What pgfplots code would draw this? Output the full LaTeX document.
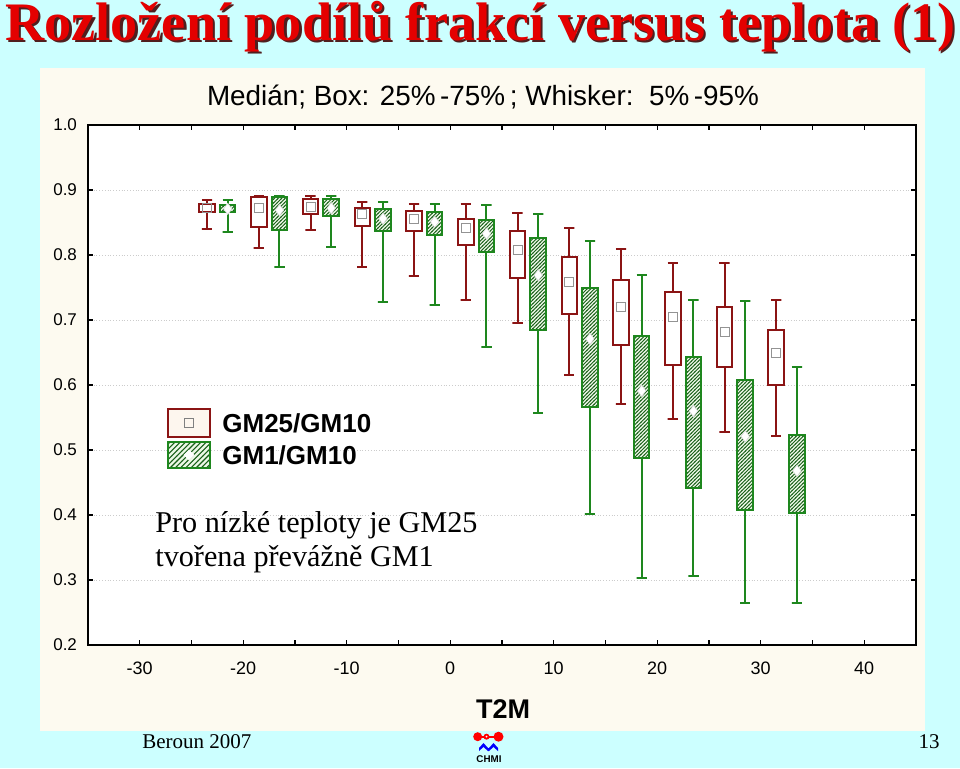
\documentclass[border=0pt]{standalone}
\usepackage{fontspec}
\setmainfont{Liberation Serif}
\setsansfont{Liberation Sans}
\usepackage{pgfplots}
\pgfplotsset{compat=1.18}
\usetikzlibrary{patterns, shapes.geometric}

\pgfdeclarepatternformonly{hatchA}{\pgfqpoint{-1pt}{-1pt}}{\pgfqpoint{2.8pt}{2.8pt}}{\pgfqpoint{1.8pt}{1.8pt}}{%
  \pgfsetlinewidth{0.45pt}%
  \pgfpathmoveto{\pgfqpoint{0pt}{0pt}}%
  \pgfpathlineto{\pgfqpoint{1.9pt}{1.9pt}}%
  \pgfusepath{stroke}}
\pgfdeclarepatternformonly{hatchB}{\pgfqpoint{-1pt}{-1pt}}{\pgfqpoint{3.6pt}{3.6pt}}{\pgfqpoint{2.6pt}{2.6pt}}{%
  \pgfsetlinewidth{0.55pt}%
  \pgfpathmoveto{\pgfqpoint{0pt}{0pt}}%
  \pgfpathlineto{\pgfqpoint{2.7pt}{2.7pt}}%
  \pgfusepath{stroke}}

\definecolor{bgcyan}{RGB}{204,255,255}
\definecolor{panel}{RGB}{253,250,240}
\definecolor{boxred}{RGB}{139,20,20}
\definecolor{boxgreen}{RGB}{30,135,30}
\definecolor{hatchcol}{RGB}{25,95,25}
\definecolor{titlered}{RGB}{228,0,0}
\definecolor{tshadow}{RGB}{80,30,30}
\definecolor{hatchbg}{RGB}{236,248,230}
\definecolor{legcream}{RGB}{253,246,238}

\newcommand{\titletext}{\resizebox{475pt}{!}{\fontsize{27}{30}\selectfont\bfseries Rozložení podílů frakcí versus teplota (1)}}

\pgfplotsset{
  rbox/.style={draw=boxred, fill=white, line width=1pt, line join=miter, line cap=rect, mark=none},
  gbox/.style={draw=boxgreen, preaction={fill=hatchbg}, pattern=hatchA, pattern color=hatchcol, line width=1pt, line join=miter, line cap=rect, mark=none},
}

\begin{document}
\begin{tikzpicture}
\begin{scope}[x=0.5pt,y=0.5pt]
\useasboundingbox (0,0) rectangle (960,768);
\fill[bgcyan] (0,0) rectangle (960,768);
\fill[panel] (40,37) rectangle (925,700);
\node[anchor=base west, inner sep=0pt, text=tshadow] at (7.5,725.5) {\titletext};
\node[anchor=base west, inner sep=0pt, text=titlered] at (5,728) {\titletext};
\end{scope}

\begin{axis}[
  at={(44pt,61.5pt)}, anchor=south west, scale only axis,
  width=414pt, height=260pt,
  xmin=-35, xmax=45, ymin=0.2, ymax=1.0,
  xtick={-30,-20,-10,0,10,20,30,40},
  xticklabels={-30,-20,-10,0,10,20,30,40},
  minor xtick={-35,-25,-15,-5,5,15,25,35,45},
  ytick={0.2,0.3,0.4,0.5,0.6,0.7,0.8,0.9,1.0},
  yticklabels={0.2,0.3,0.4,0.5,0.6,0.7,0.8,0.9,1.0},
  tick align=inside, xtick pos=both, ytick pos=both,
  major tick length=2.5pt, minor tick length=2.5pt,
  every tick/.style={black, line width=0.6pt},
  every minor tick/.style={black, line width=0.6pt},
  ymajorgrids, grid style={densely dotted, gray!40, line width=0.5pt},
  axis line style={black, line width=0.8pt},
  axis background/.style={fill=white},
  tick label style={font=\sffamily\fontsize{8.5}{10}\selectfont},
  xticklabel style={yshift=-5pt, font=\sffamily\fontsize{9}{10}\selectfont},
  yticklabel style={xshift=-2pt},
  unbounded coords=jump,
  clip=false,
]
% whiskers GM25/GM10 (red): cap at 95%, line down to 5%, cap at 5%
\addplot[boxred, line width=1pt, mark=none] coordinates {
 (-24,0.884) (-23,0.884) (-23.5,0.884) (-23.5,0.840) (-24,0.840) (-23,0.840) (nan,nan)
 (-19,0.891) (-18,0.891) (-18.5,0.891) (-18.5,0.811) (-19,0.811) (-18,0.811) (nan,nan)
 (-14,0.891) (-13,0.891) (-13.5,0.891) (-13.5,0.839) (-14,0.839) (-13,0.839) (nan,nan)
 (-9,0.882) (-8,0.882) (-8.5,0.882) (-8.5,0.782) (-9,0.782) (-8,0.782) (nan,nan)
 (-4,0.879) (-3,0.879) (-3.5,0.879) (-3.5,0.768) (-4,0.768) (-3,0.768) (nan,nan)
 (1,0.878) (2,0.878) (1.5,0.878) (1.5,0.731) (1,0.731) (2,0.731) (nan,nan)
 (6,0.865) (7,0.865) (6.5,0.865) (6.5,0.696) (6,0.696) (7,0.696) (nan,nan)
 (11,0.842) (12,0.842) (11.5,0.842) (11.5,0.615) (11,0.615) (12,0.615) (nan,nan)
 (16,0.809) (17,0.809) (16.5,0.809) (16.5,0.571) (16,0.571) (17,0.571) (nan,nan)
 (21,0.788) (22,0.788) (21.5,0.788) (21.5,0.548) (21,0.548) (22,0.548) (nan,nan)
 (26,0.788) (27,0.788) (26.5,0.788) (26.5,0.528) (26,0.528) (27,0.528) (nan,nan)
 (31,0.731) (32,0.731) (31.5,0.731) (31.5,0.522) (31,0.522) (32,0.522)
};
% whiskers GM1/GM10 (green)
\addplot[boxgreen, line width=1pt, mark=none] coordinates {
 (-22,0.884) (-21,0.884) (-21.5,0.884) (-21.5,0.835) (-22,0.835) (-21,0.835) (nan,nan)
 (-17,0.891) (-16,0.891) (-16.5,0.891) (-16.5,0.781) (-17,0.781) (-16,0.781) (nan,nan)
 (-12,0.891) (-11,0.891) (-11.5,0.891) (-11.5,0.813) (-12,0.813) (-11,0.813) (nan,nan)
 (-7,0.882) (-6,0.882) (-6.5,0.882) (-6.5,0.727) (-7,0.727) (-6,0.727) (nan,nan)
 (-2,0.879) (-1,0.879) (-1.5,0.879) (-1.5,0.723) (-2,0.723) (-1,0.723) (nan,nan)
 (3,0.877) (4,0.877) (3.5,0.877) (3.5,0.658) (3,0.658) (4,0.658) (nan,nan)
 (8,0.863) (9,0.863) (8.5,0.863) (8.5,0.557) (8,0.557) (9,0.557) (nan,nan)
 (13,0.821) (14,0.821) (13.5,0.821) (13.5,0.402) (13,0.402) (14,0.402) (nan,nan)
 (18,0.769) (19,0.769) (18.5,0.769) (18.5,0.303) (18,0.303) (19,0.303) (nan,nan)
 (23,0.731) (24,0.731) (23.5,0.731) (23.5,0.306) (23,0.306) (24,0.306) (nan,nan)
 (28,0.730) (29,0.730) (28.5,0.730) (28.5,0.264) (28,0.264) (29,0.264) (nan,nan)
 (33,0.627) (34,0.627) (33.5,0.627) (33.5,0.265) (33,0.265) (34,0.265)
};
% boxes 25%-75% GM25/GM10
\addplot[rbox] coordinates {(-24.25,0.866) (-22.75,0.866) (-22.75,0.878) (-24.25,0.878) (-24.25,0.866)};
\addplot[rbox] coordinates {(-19.25,0.843) (-17.75,0.843) (-17.75,0.889) (-19.25,0.889) (-19.25,0.843)};
\addplot[rbox] coordinates {(-14.25,0.863) (-12.75,0.863) (-12.75,0.886) (-14.25,0.886) (-14.25,0.863)};
\addplot[rbox] coordinates {(-9.25,0.845) (-7.75,0.845) (-7.75,0.873) (-9.25,0.873) (-9.25,0.845)};
\addplot[rbox] coordinates {(-4.25,0.837) (-2.75,0.837) (-2.75,0.867) (-4.25,0.867) (-4.25,0.837)};
\addplot[rbox] coordinates {(0.75,0.816) (2.25,0.816) (2.25,0.856) (0.75,0.856) (0.75,0.816)};
\addplot[rbox] coordinates {(5.75,0.764) (7.25,0.764) (7.25,0.837) (5.75,0.837) (5.75,0.764)};
\addplot[rbox] coordinates {(10.75,0.709) (12.25,0.709) (12.25,0.797) (10.75,0.797) (10.75,0.709)};
\addplot[rbox] coordinates {(15.75,0.662) (17.25,0.662) (17.25,0.762) (15.75,0.762) (15.75,0.662)};
\addplot[rbox] coordinates {(20.75,0.631) (22.25,0.631) (22.25,0.743) (20.75,0.743) (20.75,0.631)};
\addplot[rbox] coordinates {(25.75,0.627) (27.25,0.627) (27.25,0.720) (25.75,0.720) (25.75,0.627)};
\addplot[rbox] coordinates {(30.75,0.600) (32.25,0.600) (32.25,0.685) (30.75,0.685) (30.75,0.600)};
% boxes 25%-75% GM1/GM10
\addplot[gbox] coordinates {(-22.25,0.866) (-20.75,0.866) (-20.75,0.877) (-22.25,0.877) (-22.25,0.866)};
\addplot[gbox] coordinates {(-17.25,0.838) (-15.75,0.838) (-15.75,0.889) (-17.25,0.889) (-17.25,0.838)};
\addplot[gbox] coordinates {(-12.25,0.860) (-10.75,0.860) (-10.75,0.886) (-12.25,0.886) (-12.25,0.860)};
\addplot[gbox] coordinates {(-7.25,0.837) (-5.75,0.837) (-5.75,0.871) (-7.25,0.871) (-7.25,0.837)};
\addplot[gbox] coordinates {(-2.25,0.831) (-0.75,0.831) (-0.75,0.866) (-2.25,0.866) (-2.25,0.831)};
\addplot[gbox] coordinates {(2.75,0.804) (4.25,0.804) (4.25,0.854) (2.75,0.854) (2.75,0.804)};
\addplot[gbox] coordinates {(7.75,0.684) (9.25,0.684) (9.25,0.826) (7.75,0.826) (7.75,0.684)};
\addplot[gbox] coordinates {(12.75,0.566) (14.25,0.566) (14.25,0.749) (12.75,0.749) (12.75,0.566)};
\addplot[gbox] coordinates {(17.75,0.487) (19.25,0.487) (19.25,0.675) (17.75,0.675) (17.75,0.487)};
\addplot[gbox] coordinates {(22.75,0.441) (24.25,0.441) (24.25,0.643) (22.75,0.643) (22.75,0.441)};
\addplot[gbox] coordinates {(27.75,0.408) (29.25,0.408) (29.25,0.607) (27.75,0.607) (27.75,0.408)};
\addplot[gbox] coordinates {(32.75,0.403) (34.25,0.403) (34.25,0.523) (32.75,0.523) (32.75,0.403)};
% medians
\addplot[only marks, mark=square, mark size=2.25pt, draw=gray, mark options={line width=0.5pt, draw=gray!85}] coordinates {
 (-23.5,0.873) (-18.5,0.872) (-13.5,0.874) (-8.5,0.863) (-3.5,0.856) (1.5,0.841)
 (6.5,0.808) (11.5,0.758) (16.5,0.720) (21.5,0.704) (26.5,0.681) (31.5,0.650)};
\addplot[only marks, mark=diamond*, mark size=2.8pt, mark options={line width=0.3pt, draw=gray!30, fill=white}] coordinates {
 (-21.5,0.871) (-16.5,0.869) (-11.5,0.872) (-6.5,0.856) (-1.5,0.851) (3.5,0.833)
 (8.5,0.769) (13.5,0.671) (18.5,0.591) (23.5,0.560) (28.5,0.521) (33.5,0.468)};
\end{axis}

\begin{scope}[x=0.5pt,y=0.5pt]
% legend
\draw[boxred, line width=1pt, fill=legcream] (168,331) rectangle (210,359);
\node[rectangle, draw=gray, line width=0.5pt, minimum size=4.5pt, inner sep=0pt] at (189,345) {};
\draw[boxgreen, line width=1pt, preaction={fill=hatchbg}, pattern=hatchB, pattern color=hatchcol] (168,300) rectangle (210,326);
\node[diamond, fill=white, minimum width=5.5pt, minimum height=5.5pt, inner sep=0pt] at (189,313) {};
\node[anchor=west, inner sep=0pt, font=\sffamily\bfseries\fontsize{13}{15}\selectfont] at (222,345) {GM25/GM10};
\node[anchor=west, inner sep=0pt, font=\sffamily\bfseries\fontsize{13}{15}\selectfont] at (222,313) {GM1/GM10};
% texts
\node[inner sep=0pt] at (483,671) {\resizebox{276pt}{!}{\sffamily\fontsize{12}{14}\selectfont Medián; Box: 25\%\,-75\%\,; Whisker:\ \ 5\%\,-95\%}};
\node[anchor=base west, inner sep=0pt, font=\fontsize{15.1}{17}\selectfont] at (155,236) {Pro nízké teploty je GM25};
\node[anchor=base west, inner sep=0pt, font=\fontsize{15.1}{17}\selectfont] at (155,202) {tvořena převážně GM1};
\node[inner sep=0pt, font=\sffamily\bfseries\fontsize{13.5}{15}\selectfont] at (503,59) {T2M};
\node[anchor=base west, inner sep=0pt, font=\fontsize{10.5}{12}\selectfont] at (142,20) {Beroun 2007};
\node[anchor=base east, inner sep=0pt, font=\fontsize{10.5}{12}\selectfont] at (940,20) {13};
% CHMI logo
\fill[red] (477.7,31.3) circle (4.5);
\fill[red] (498.5,31.3) circle (5);
\fill[red] (486.5,31.3) circle (3);
\fill[red] (481,30.3) rectangle (494,32.3);
\fill[white] (486.5,31.3) circle (1);
\fill[blue] (479,17) -- (479,20) -- (483.5,25) -- (488,20) -- (489,20) -- (493.5,25) -- (498,20) -- (498,17) -- (493.5,21) -- (489,17) -- (488,17) -- (483.5,21) -- cycle;
\node[inner sep=0pt, font=\sffamily\bfseries\fontsize{4.9}{5}\selectfont] at (489,9) {CHMI};
\end{scope}
\end{tikzpicture}
\end{document}
